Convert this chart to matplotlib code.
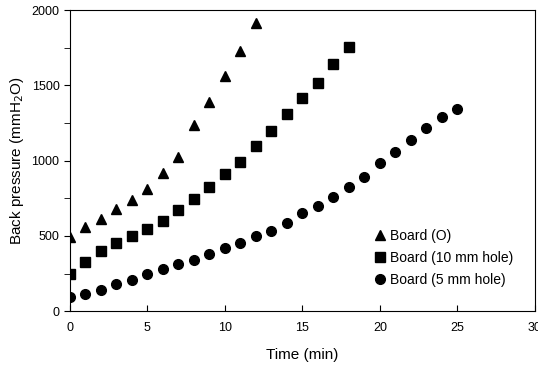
import matplotlib
matplotlib.use("Agg")
import matplotlib.pyplot as plt
from matplotlib.ticker import MultipleLocator

plt.rcParams['font.family'] = ['Liberation Sans', 'DejaVu Sans']

t_open = list(range(0, 13))
p_open = [495, 556, 611, 676, 737, 813, 915, 1025, 1240, 1387, 1561, 1730, 1916]

t_10mm = list(range(0, 19))
p_10mm = [246, 328, 397, 454, 500, 543, 600, 671, 746, 822, 910, 992, 1098, 1198,
          1309, 1417, 1519, 1639, 1756]

t_5mm = list(range(0, 26))
p_5mm = [95, 117, 140, 179, 210, 246, 277, 312, 343, 383, 421, 456, 498, 534,
         587, 649, 700, 760, 826, 888, 985, 1058, 1136, 1218, 1291, 1344]

labels = ['Board (O)', 'Board (10 mm hole)', 'Board (5 mm hole)']

fig = plt.figure(figsize=(5.38, 3.74), dpi=100)
ax = fig.add_axes([0.130, 0.168, 0.864, 0.805])

ax.plot(t_open, p_open, linestyle='none', marker='^', color='black', ms=7, label=labels[0])
ax.plot(t_10mm, p_10mm, linestyle='none', marker='s', color='black', ms=6.5, label=labels[1])
ax.plot(t_5mm, p_5mm, linestyle='none', marker='o', color='black', ms=7, label=labels[2])

ax.set_xlim(0, 30)
ax.set_ylim(0, 2000)
ax.xaxis.set_major_locator(MultipleLocator(5))
ax.yaxis.set_major_locator(MultipleLocator(500))
ax.yaxis.set_minor_locator(MultipleLocator(250))
ax.tick_params(axis='x', direction='in', length=4, labelsize=9, pad=8)
ax.tick_params(axis='y', which='both', direction='out', length=4, labelsize=9)
for s in ax.spines.values():
    s.set_linewidth(0.8)

ax.set_xlabel('Time (min)', fontsize=11, labelpad=10)
ax.set_ylabel('Back pressure (mmH$_2$O)', fontsize=11)

ax.legend(loc='upper left', bbox_to_anchor=(0.64, 0.295), frameon=False, fontsize=10,
          handlelength=0.8, handletextpad=0.3, labelspacing=0.55, borderpad=0)

fig.savefig('out.png', dpi=100)
